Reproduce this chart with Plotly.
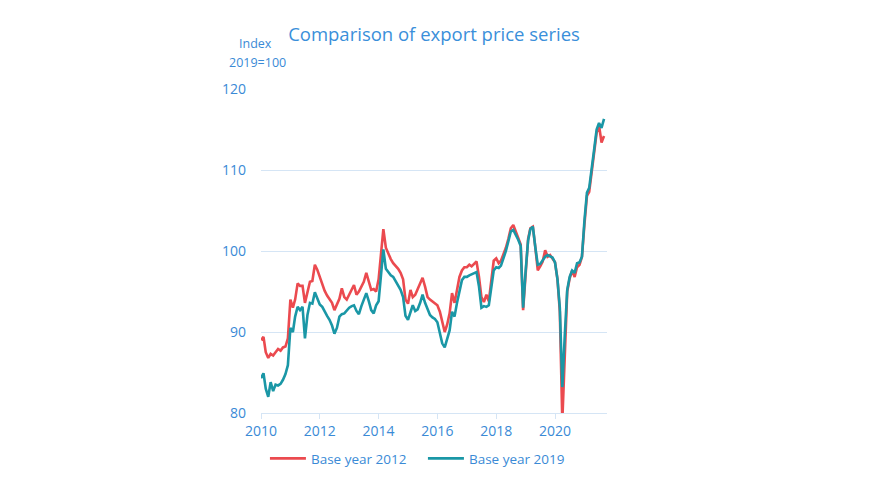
import pandas as pd
import plotly.graph_objects as go

# Monthly export price index, Jan 2010 - Sep 2021
months = pd.date_range("2010-01-01", periods=141, freq="MS")

base_2012 = [
    # 2010
    89.0, 89.4, 87.5, 86.8, 87.3, 87.1, 87.5, 87.9, 87.7, 88.1, 88.2, 89.2,
    # 2011
    94.0, 93.0, 94.0, 96.0, 95.7, 95.7, 93.6, 94.8, 96.2, 96.3, 98.3, 97.7,
    # 2012
    96.8, 95.9, 95.1, 94.5, 94.1, 93.6, 92.7, 93.4, 94.1, 95.4, 94.3, 94.0,
    # 2013
    94.6, 95.3, 95.8, 94.6, 95.0, 95.6, 96.2, 97.3, 96.2, 95.2, 95.3, 95.0,
    # 2014
    96.5, 100.0, 102.7, 100.4, 99.6, 99.0, 98.5, 98.2, 97.8, 97.3, 96.5, 94.0,
    # 2015
    93.5, 95.2, 94.3, 94.6, 95.3, 96.0, 96.7, 95.6, 94.3, 94.0, 93.8, 93.6,
    # 2016
    93.3, 92.5, 91.2, 90.0, 90.9, 92.3, 94.8, 93.6, 95.2, 96.8, 97.6, 98.0,
    # 2017
    98.0, 98.3, 98.1, 98.4, 98.7, 96.8, 94.3, 93.7, 94.6, 93.8, 96.2, 98.8,
    # 2018
    99.1, 98.5, 98.8, 99.5, 100.4, 101.5, 102.8, 103.2, 102.3, 101.5, 100.8, 92.7,
    # 2019
    97.5, 101.5, 102.8, 103.0, 100.5, 97.6, 98.1, 98.7, 100.1, 99.3, 99.5, 99.1,
    # 2020
    98.6, 96.5, 92.5, 79.0, 88.0, 95.0, 96.6, 97.6, 96.8, 98.0, 98.3, 99.3,
    # 2021
    103.3, 106.8, 107.3, 110.0, 112.0, 114.6, 115.5, 113.4, 114.2,
]

base_2019 = [
    # 2010
    84.3, 84.9, 83.0, 82.0, 83.8, 82.7, 83.5, 83.4, 83.6, 84.1, 84.8, 85.9,
    # 2011
    90.5, 90.0, 91.9, 93.1, 92.7, 93.1, 89.2, 92.1, 93.6, 93.5, 94.9, 94.2,
    # 2012
    93.4, 93.1, 92.5, 92.0, 91.5, 90.8, 89.8, 90.5, 91.9, 92.2, 92.3, 92.7,
    # 2013
    93.0, 93.2, 93.3, 92.6, 92.2, 93.2, 94.0, 94.8, 93.8, 92.7, 92.3, 93.3,
    # 2014
    93.8, 97.5, 100.2, 97.8, 97.4, 97.0, 96.8, 96.2, 95.8, 95.2, 94.3, 92.0,
    # 2015
    91.5, 92.5, 93.3, 92.6, 92.8, 93.6, 94.6, 93.6, 92.7, 92.1, 91.8, 91.6,
    # 2016
    91.2, 89.9, 88.6, 88.1, 89.0, 90.2, 92.5, 91.9, 93.6, 95.0, 96.4, 96.8,
    # 2017
    96.8, 97.0, 97.1, 97.2, 97.4, 95.6, 93.0, 93.2, 93.1, 93.3, 95.6, 97.6,
    # 2018
    98.0, 97.9, 98.2, 99.1, 100.0, 101.2, 102.4, 102.6, 102.0, 101.4, 100.6, 93.0,
    # 2019
    97.5, 101.3, 102.7, 103.0, 100.5, 98.3, 98.4, 98.8, 99.3, 99.5, 99.3, 99.2,
    # 2020
    98.6, 96.5, 93.0, 83.2, 89.5, 95.2, 96.8, 97.6, 97.3, 98.5, 98.6, 99.3,
    # 2021
    103.8, 107.2, 107.8, 110.5, 112.5, 115.0, 115.8, 115.2, 116.3,
]

series_names = ["Base year 2012", "Base year 2019"]
y_ticks = [80, 90, 100, 110, 120]

blue_text = "#3A8AD6"
grid_col = "#D5E5F5"
font_fam = "Open Sans, Noto Sans, sans-serif"

fig = go.Figure()
fig.add_trace(go.Scatter(
    x=months, y=base_2012, mode="lines", name=series_names[0],
    line=dict(color="#EB4A4F", width=2.6),
))
fig.add_trace(go.Scatter(
    x=months, y=base_2019, mode="lines", name=series_names[1],
    line=dict(color="#1A97A6", width=2.6),
))

fig.update_layout(
    width=880, height=479,
    margin=dict(l=253, r=281, t=81, b=74),
    paper_bgcolor="white", plot_bgcolor="white",
    font=dict(family=font_fam, color=blue_text, size=13),
    title=dict(
        text="Comparison of export price series",
        x=0.5, xref="paper", y=0.944, yref="container",
        xanchor="center", yanchor="middle",
        font=dict(size=18.5, color="#3A8FDA", family=font_fam),
    ),
    showlegend=True,
    legend=dict(
        orientation="h", x=0.468, xanchor="center", y=-0.093, yanchor="top",
        font=dict(size=13.5, color=blue_text), itemwidth=36,
        entrywidth=107, entrywidthmode="pixels",
        traceorder="normal",
    ),
    xaxis=dict(
        type="date",
        range=["2010-01-01", "2021-10-08"],
        tick0="2010-01-01", dtick="M24", tickformat="%Y",
        showgrid=False, showline=True, linecolor=grid_col, linewidth=1,
        ticks="outside", ticklen=5, tickcolor=grid_col,
        tickfont=dict(size=14, color=blue_text),
        zeroline=False,
    ),
    yaxis=dict(
        range=[80, 120], tickvals=y_ticks,
        showgrid=True, gridcolor=grid_col, gridwidth=1,
        showline=False, zeroline=False, ticks="",
        ticklabelstandoff=14,
        tickfont=dict(size=14, color=blue_text),
    ),
    annotations=[
        dict(text="Index", xref="paper", yref="paper",
             x=(247 - 253) / 346, y=(405 - 35) / 324,
             xanchor="center", yanchor="middle",
             showarrow=False,
             font=dict(size=12.5, color=blue_text, family=font_fam)),
        dict(text="2019=100", xref="paper", yref="paper",
             x=(249 - 253) / 346, y=(405 - 54) / 324,
             xanchor="center", yanchor="middle",
             showarrow=False,
             font=dict(size=12.5, color=blue_text, family=font_fam)),
    ],
)

fig.write_html("out.html")
